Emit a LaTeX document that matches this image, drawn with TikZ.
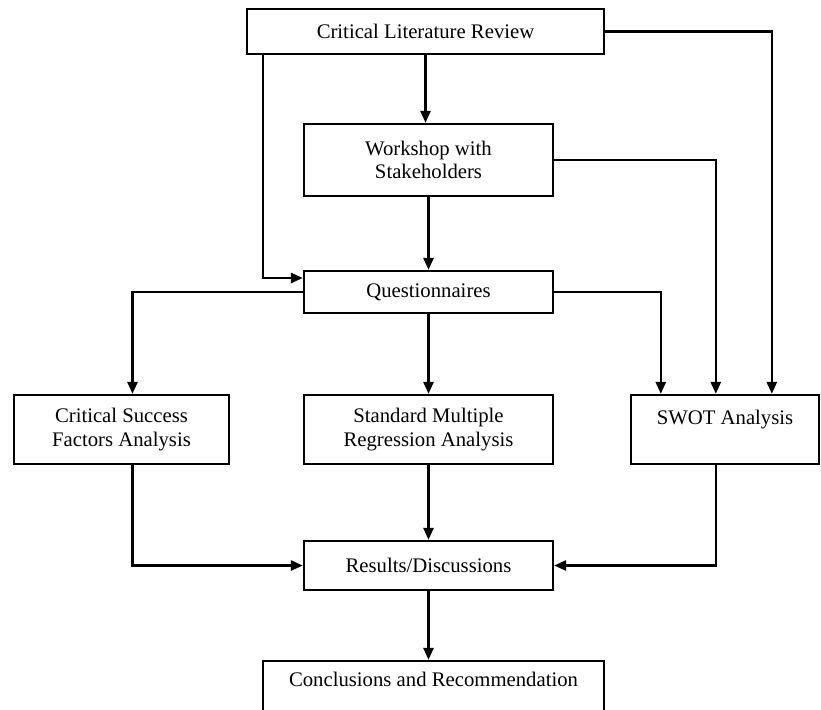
\documentclass[tikz,border=0pt]{standalone}
\usepackage{fontspec}
\setmainfont{Liberation Serif}
\usetikzlibrary{arrows.meta,calc}
\newcommand{\px}{0.019cm}

\begin{document}
\begin{tikzpicture}[x=\px,y=-\px,>={Triangle[length=6.5pt,width=5.5pt]},
  conn/.style={->,line width=1.3pt},
  box/.style={draw,line width=1.3pt,align=center,inner sep=0pt,
    font=\fontsize{11.2}{12.8}\selectfont}]
  \clip (0,0) rectangle (821,709);
  \node[box,minimum width=357*\px,minimum height=45*\px] (clr) at (425.5,31.5)
    {Critical Literature Review};
  \node[box,minimum width=249*\px,minimum height=72*\px] (ws) at (428.5,160)
    {Workshop with\\Stakeholders};
  \node[box,minimum width=249*\px,minimum height=42*\px] (quest) at (428.5,292)
    {Questionnaires};
  \node[box,minimum width=215*\px,minimum height=69*\px] (csf) at (121.5,429.5)
    {Critical Success\\Factors Analysis};
  \node[box,minimum width=249*\px,minimum height=69*\px] (smra) at (428.5,429.5)
    {Standard Multiple\\Regression Analysis};
  \node[box,minimum width=188*\px,minimum height=69*\px] (swot) at (725,429.5)
    {SWOT Analysis\\~};
  \node[box,minimum width=249*\px,minimum height=49*\px] (res) at (428.5,565.5)
    {Results/Discussions};
  \node[box,minimum width=341*\px,minimum height=60*\px] (concl) at (433.5,691)
    {Conclusions and Recommendation\\~};
  \draw[conn] (clr.south) -- (clr.south |- ws.north);
  \draw[conn] (ws.south) -- (quest.north);
  \draw[conn] ($(clr.south west)+(17,0)$) |- ($(quest.west)+(0,-14)$);
  \draw[conn] (clr.east) -| ($(swot.north west)+(142,0)$);
  \draw[conn] (ws.east) -| ($(swot.north west)+(86,0)$);
  \draw[conn] (quest.east) -| ($(swot.north west)+(31,0)$);
  \draw[conn] (quest.west) -| ($(csf.north)+(11,0)$);
  \draw[conn] (quest.south) -- (smra.north);
  \draw[conn] ($(csf.south)+(11,0)$) |- (res.west);
  \draw[conn] ($(swot.south west)+(86,0)$) |- (res.east);
  \draw[conn] (smra.south) -- (res.north);
  \draw[conn] (res.south) -- (res.south |- concl.north);
\end{tikzpicture}
\end{document}
